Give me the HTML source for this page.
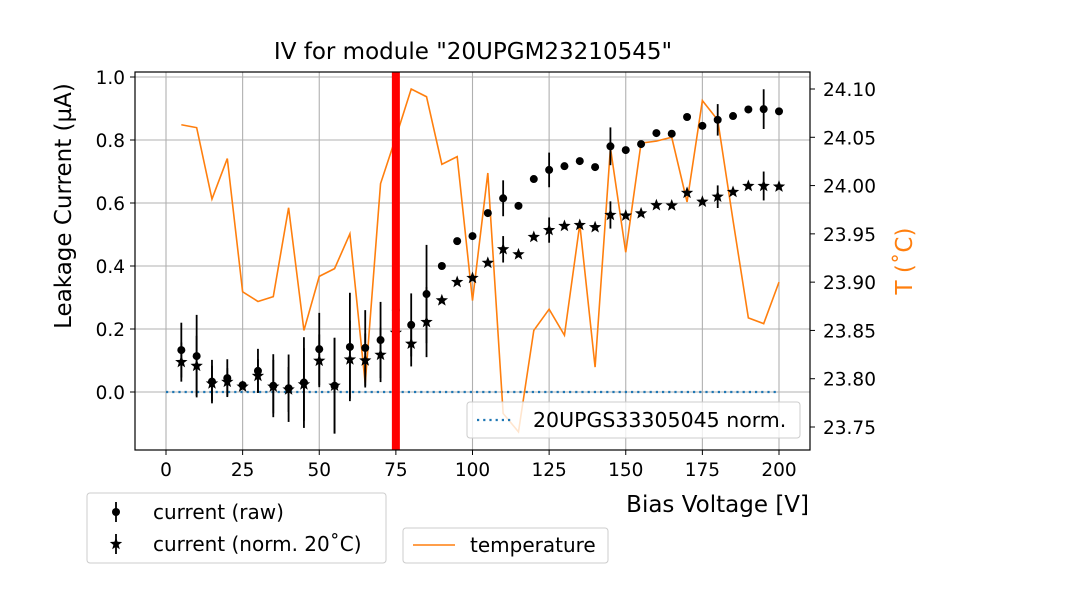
<!DOCTYPE html>
<html><head><meta charset="utf-8"><style>
body{margin:0;background:#fff;font-family:"DejaVu Sans","Liberation Sans",sans-serif;}
svg{display:block}
</style></head><body>
<svg id="chart" width="1080" height="600" viewBox="0 0 1080 600" xmlns="http://www.w3.org/2000/svg" font-family="DejaVu Sans, Liberation Sans, sans-serif"></svg>
<script>
const voltages=[5,10,15,20,25,30,35,40,45,50,55,60,65,70,75,80,85,90,95,100,105,110,115,120,125,130,135,140,145,150,155,160,165,170,175,180,185,190,195,200];
const currentRaw=[0.133,0.114,0.033,0.044,0.022,0.067,0.020,0.012,0.030,0.136,0.020,0.143,0.140,0.165,0.260,0.213,0.311,0.400,0.479,0.495,0.568,0.615,0.591,0.676,0.705,0.717,0.733,0.714,0.780,0.768,0.787,0.822,0.820,0.873,0.845,0.864,0.876,0.897,0.898,0.891];
const currentNorm=[0.095,0.083,0.027,0.032,0.017,0.051,0.017,0.008,0.024,0.099,0.020,0.103,0.100,0.118,0.188,0.153,0.222,0.291,0.349,0.362,0.410,0.453,0.437,0.492,0.514,0.527,0.530,0.523,0.562,0.560,0.567,0.593,0.592,0.632,0.604,0.620,0.635,0.654,0.654,0.652];
const currentErr=[0.087,0.131,0.069,0.060,0,0.070,0.100,0.107,0.144,0.115,0.152,0.172,0.120,0.121,0.105,0.100,0.156,0,0,0,0,0.057,0,0,0.055,0,0,0,0.060,0,0,0,0,0,0,0.050,0,0,0.063,0];
const temperature=[24.063,24.060,23.986,24.028,23.890,23.880,23.885,23.977,23.850,23.906,23.914,23.950,23.795,24.002,24.050,24.100,24.092,24.022,24.030,23.881,24.013,23.764,23.745,23.850,23.872,23.845,23.960,23.812,24.039,23.931,24.044,24.046,24.050,23.983,24.088,24.068,23.964,23.863,23.857,23.900];
const refLine=[0,200];
const markerVoltage=75;
const xTicks=[0,25,50,75,100,125,150,175,200];
const yTicks=[0.0,0.2,0.4,0.6,0.8,1.0];
const tTicks=[23.75,23.80,23.85,23.90,23.95,24.00,24.05,24.10];

const svg=document.getElementById('chart');
const NS='http://www.w3.org/2000/svg';
const L=135,R=810,T=72,B=450;
const X=v=>166+(v-0)*(779-166)/200;
const Y=v=>392-v*315;
const YT=t=>427-(t-23.75)*(338/0.35);
function mk(tag,attrs,parent){const e=document.createElementNS(NS,tag);for(const k in attrs)e.setAttribute(k,attrs[k]);(parent||svg).appendChild(e);return e;}
function txt(s,attrs,parent){const e=mk('text',attrs,parent);e.textContent=s;return e;}

const grid=mk('g',{});


xTicks.forEach(v=>mk('line',{x1:X(v),x2:X(v),y1:T,y2:B,stroke:'#b0b0b0','stroke-width':1.1},grid));
yTicks.forEach(v=>mk('line',{x1:L,x2:R,y1:Y(v),y2:Y(v),stroke:'#b0b0b0','stroke-width':1.1},grid));

const ref=mk('line',{x1:X(refLine[0]),x2:X(refLine[1]),y1:Y(0),y2:Y(0),stroke:'#1f77b4','stroke-width':2.2,'stroke-dasharray':'2.2,4'});



const tp=mk('polyline',{points:voltages.map((v,i)=>X(v)+','+YT(temperature[i])).join(' '),fill:'none',stroke:'#ff7f0e','stroke-width':1.6});



function star(cx,cy,r){let p=[];for(let k=0;k<10;k++){const a=-Math.PI/2+k*Math.PI/5;const rr=k%2?r*0.42:r;p.push((cx+rr*Math.cos(a)).toFixed(2)+','+(cy+rr*Math.sin(a)).toFixed(2));}return p.join(' ');}
voltages.forEach((v,i)=>{
  const e=currentErr[i];
  if(e>0){
    const b1=mk('line',{x1:X(v),x2:X(v),y1:Y(currentRaw[i]+e),y2:Y(currentRaw[i]-e),stroke:'#000','stroke-width':1.8});
    
    
    const en=e*currentNorm[i]/currentRaw[i];
    const b2=mk('line',{x1:X(v),x2:X(v),y1:Y(currentNorm[i]+en),y2:Y(currentNorm[i]-en),stroke:'#000','stroke-width':1.8});
    
    
  }
  const c=mk('circle',{cx:X(v),cy:Y(currentRaw[i]),r:4,fill:'#000'});
  
  
  const s=mk('polygon',{points:star(X(v),Y(currentNorm[i]),6.5),fill:'#000'});
  
  
});

const rl=mk('rect',{x:X(markerVoltage)-4,y:T,width:8,height:B-T,fill:'#ff0000'});



const fr=mk('rect',{x:L,y:T,width:R-L,height:B-T,fill:'none',stroke:'#000','stroke-width':1.2});



xTicks.forEach(v=>{mk('line',{x1:X(v),x2:X(v),y1:B,y2:B+5,stroke:'#000'});
  const t=txt(String(v),{x:X(v),y:B+26,'text-anchor':'middle','font-size':18.5});
  
  });
yTicks.forEach(v=>{mk('line',{x1:L-5,x2:L,y1:Y(v),y2:Y(v),stroke:'#000'});
  const t=txt(v.toFixed(1),{x:L-10,y:Y(v)+7,'text-anchor':'end','font-size':18.5});
  
  });
tTicks.forEach(v=>{mk('line',{x1:R,x2:R+5,y1:YT(v),y2:YT(v),stroke:'#000'});
  const t=txt(v.toFixed(2),{x:R+13,y:YT(v)+7,'text-anchor':'start','font-size':18.5});
  
  });

const ti=txt('IV for module "20UPGM23210545"',{x:473,y:59,'text-anchor':'middle','font-size':23});


const yl=txt('Leakage Current (µA)',{x:0,y:0,'text-anchor':'middle','font-size':23,transform:'translate(71,206) rotate(-90)'});


const tl=txt('T (˚C)',{x:0,y:0,'text-anchor':'middle','font-size':23,fill:'#ff7f0e',transform:'translate(912,261) rotate(-90)'});


const xl=txt('Bias Voltage [V]',{x:809,y:512,'text-anchor':'end','font-size':23});



const lg1=mk('g',{});


mk('rect',{x:467,y:402,width:333,height:36,rx:3,fill:'#fff','fill-opacity':0.8,stroke:'#ccc'},lg1);
mk('line',{x1:477,x2:512,y1:420,y2:420,stroke:'#1f77b4','stroke-width':2.2,'stroke-dasharray':'2.2,4'},lg1);
txt('20UPGS33305045 norm.',{x:533,y:427,'font-size':20.5},lg1);

const lg2=mk('g',{});


mk('rect',{x:87,y:493,width:299,height:70,rx:3,fill:'#fff',stroke:'#ccc'},lg2);
mk('line',{x1:116,x2:116,y1:502,y2:522,stroke:'#000','stroke-width':1.8},lg2);
mk('circle',{cx:116,cy:512,r:4},lg2);
txt('current (raw)',{x:153,y:519,'font-size':20},lg2);
mk('line',{x1:116,x2:116,y1:534,y2:554,stroke:'#000','stroke-width':1.8},lg2);
mk('polygon',{points:star(116,544,6.5)},lg2);
txt('current (norm. 20˚C)',{x:153,y:551,'font-size':20},lg2);

const lg3=mk('g',{});


mk('rect',{x:403,y:528,width:205,height:35,rx:3,fill:'#fff',stroke:'#ccc'},lg3);
mk('line',{x1:413,x2:455,y1:545,y2:545,stroke:'#ff7f0e','stroke-width':1.6},lg3);
txt('temperature',{x:470,y:552,'font-size':20},lg3);
</script>
</body></html>
